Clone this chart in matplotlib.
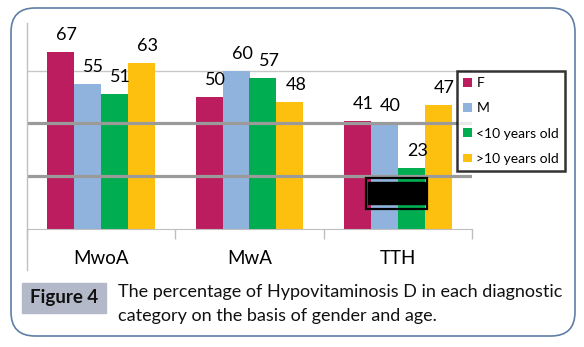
import numpy as np
import matplotlib
matplotlib.use("Agg")
import matplotlib.pyplot as plt
from matplotlib.patches import Patch, Rectangle, FancyBboxPatch
from matplotlib.lines import Line2D
from matplotlib.transforms import Affine2D

plt.rcParams["font.family"] = ["Lato", "DejaVu Sans"]

# data
categories = ["MwoA", "MwA", "TTH"]
series = ["F", "M", "<10 years old", ">10 years old"]
F = [67, 50, 41]
M = [55, 60, 40]
under10 = [51, 57, 23]
over10 = [63, 48, 47]
colors = ["#bc1d5f", "#8fb3dd", "#00ad50", "#fec00f"]
caption = ["The percentage of Hypovitaminosis D in each diagnostic",
           "category on the basis of gender and age."]

W, H = 584, 347
fig = plt.figure(figsize=(W / 100, H / 100), dpi=100)
# pixel coords, origin at top left like the picture
px = Affine2D().scale(1 / W, -1 / H).translate(0, 1) + fig.transFigure

ax = fig.add_axes([27 / W, (H - 229) / H, 445 / W, 206 / H])
ax.set_facecolor("none")

x = np.arange(len(categories))
w = 0.182
vals = [F, M, under10, over10]
for i, v in enumerate(vals):
    bars = ax.bar(x + (i - 1.5) * w, v, w, color=colors[i], zorder=2)
    for b, val in zip(bars, v):
        ax.annotate(str(val), (b.get_x() + b.get_width() / 2, b.get_height()),
                    xytext=(6, 17), textcoords="offset pixels",
                    ha="center", va="center", fontsize=13)

ax.set_xlim(-0.5, 2.5)
ax.set_ylim(0, 78)
ax.axhline(60, color="#c8c8c8", lw=1, zorder=1)
for yv in [20, 40]:
    ax.axhline(yv, color="#9a9a9a", lw=2.3, zorder=5)

ax.set_yticks([])
ax.set_xticks(x)
ax.set_xticklabels(categories, fontsize=13.5)
ax.tick_params(axis="x", which="major", length=0, pad=15)
ax.set_xticks([-0.5, 0.5, 1.5, 2.5], minor=True)
ax.tick_params(axis="x", which="minor", length=7, color="#bfbfbf", width=1)
for s in ["top", "right", "left"]:
    ax.spines[s].set_visible(False)
ax.spines["bottom"].set_color("#bfbfbf")

# left frame line of the chart
fig.add_artist(Line2D([27, 27], [23, 270], transform=px, color="#bfbfbf", lw=1))

# black box over the TTH bars
fig.add_artist(Rectangle((368, 182), 57, 22, transform=px, color="black", zorder=6))
fig.add_artist(Rectangle((366, 178), 61, 31, transform=px, fill=False,
                         edgecolor="black", lw=1.6, zorder=6))

handles = [Patch(facecolor=c, edgecolor="none") for c in colors]
leg = fig.legend(handles, series, loc="upper left",
                 bbox_to_anchor=(457 / W, 1 - 71 / H), fontsize=10,
                 frameon=True, fancybox=False, handlelength=0.6, handleheight=0.6,
                 handletextpad=0.35, labelspacing=0.95, borderpad=0.45,
                 borderaxespad=0)
leg.get_frame().set_edgecolor("black")
leg.get_frame().set_linewidth(1.8)

# caption block
fig.add_artist(Rectangle((22, 283), 84, 30, transform=px, color="#b4b9c9"))
fig.text(64, 298, "Figure 4", transform=px, ha="center", va="center",
         fontsize=13.5, fontweight="bold", color="#111111")
fig.text(118, 292, caption[0], transform=px, va="center", fontsize=13, color="#111111")
fig.text(118, 316, caption[1], transform=px, va="center", fontsize=13, color="#111111")

# outer rounded frame
fig.add_artist(FancyBboxPatch((11, 8), 564, 328, transform=px,
                              boxstyle="round,pad=0,rounding_size=24",
                              fill=False, edgecolor="#5f7ea6", lw=1.2))

plt.savefig("out.png", dpi=100)
